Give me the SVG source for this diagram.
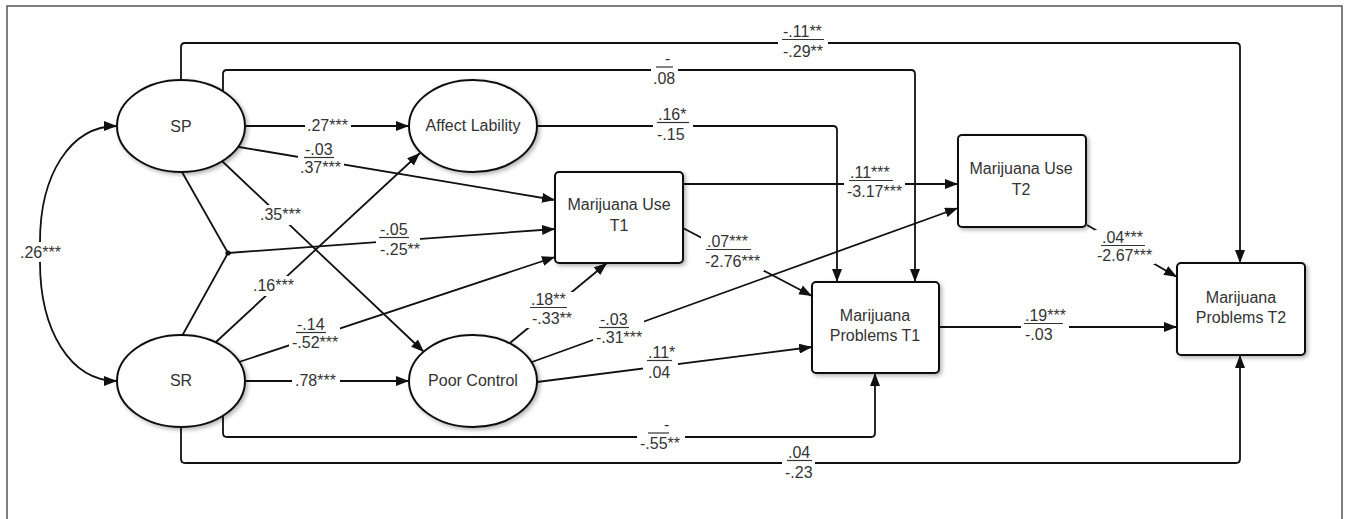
<svg xmlns="http://www.w3.org/2000/svg" width="1349" height="519" viewBox="0 0 1349 519">
<style>
.frame{fill:none;stroke:#555;stroke-width:1.5}
.node{fill:#fff;stroke:#111;stroke-width:2;filter:url(#sh)}
.nt{font-family:"Liberation Sans",Arial,sans-serif;font-size:16px;fill:#333;text-anchor:middle}
.c{fill:none;stroke:#111;stroke-width:1.8}
.ca{fill:none;stroke:#111;stroke-width:1.8;marker-end:url(#ah)}
.lt{font-family:"Liberation Sans",Arial,sans-serif;font-size:16px;fill:#333}
.ul{stroke:#333;stroke-width:1.2}
.bg{fill:#fff}
</style>
<defs>
<filter id="sh" x="-20%" y="-20%" width="150%" height="150%">
<feDropShadow dx="2" dy="2" stdDeviation="2" flood-color="#000" flood-opacity="0.3"/>
</filter>
<marker id="ah" markerUnits="userSpaceOnUse" markerWidth="13" markerHeight="10" refX="13" refY="5" orient="auto">
<path d="M0,0 L13,5 L0,10 z" fill="#111"/>
</marker>
</defs>
<rect x="0" y="0" width="1349" height="519" fill="#fff"/>
<path class="frame" d="M7,519 V6 H1342 V519"/>

<g id="connectors">
<!-- SP -> MP T2 (top) -->
<path class="ca" d="M181,80 V47 Q181,43 185,43 H1236 Q1240,43 1240,47 V263"/>
<!-- SP -> MP T1 (top) -->
<path class="ca" d="M223,91 V74 Q223,70 227,70 H911 Q915,70 915,74 V282"/>
<!-- AL -> MP T1 -->
<path class="ca" d="M537,126 H833 Q837,126 837,130 V282"/>
<!-- SP -> AL -->
<path class="ca" d="M244,126 H409"/>
<!-- SP -> MU T1 -->
<path class="ca" d="M239,147 L555,200"/>
<!-- SP -> PC -->
<path class="ca" d="M222,161 L424,352"/>
<!-- SR -> AL -->
<path class="ca" d="M216,342 L420,153"/>
<!-- SP/SR junction -> MU T1 -->
<path class="c" d="M182,172 L228,253 L182,336"/>
<path class="ca" d="M228,253 L555,229"/>
<circle cx="228" cy="253" r="2.6" fill="#111"/>
<!-- SR -> MU T1 -->
<path class="ca" d="M239,362 L555,257"/>
<!-- SR -> PC -->
<path class="ca" d="M244,381 H409"/>
<!-- SP <-> SR covariance -->
<path class="ca" d="M40,242 C40,175 70,126 117,126"/>
<path class="ca" d="M40,262 C40,330 70,381 117,381"/>
<!-- SR -> MP T1 (bottom) -->
<path class="ca" d="M223,416 V433 Q223,437 227,437 H871 Q875,437 875,433 V373"/>
<!-- SR -> MP T2 (bottom) -->
<path class="ca" d="M181,427 V459 Q181,463 185,463 H1236 Q1240,463 1240,459 V355"/>
<!-- PC -> MU T1 -->
<path class="ca" d="M510,343 L607,263"/>
<!-- PC -> MU T2 -->
<path class="ca" d="M532,362 L958,208"/>
<!-- PC -> MP T1 -->
<path class="ca" d="M537,382 L812,347"/>
<!-- MU T1 -> MP T1 -->
<path class="ca" d="M683,228 L812,296"/>
<!-- MU T1 -> MU T2 -->
<path class="ca" d="M683,184 H958"/>
<!-- MU T2 -> MP T2 -->
<path class="ca" d="M1087,225 L1177,277"/>
<!-- MP T1 -> MP T2 -->
<path class="ca" d="M939,327 H1177"/>

<!-- label backgrounds -->
<rect class="bg" x="778" y="24" width="50" height="37"/>
<rect class="bg" x="651" y="55" width="27" height="33"/>
<rect class="bg" x="653" y="108" width="40" height="36"/>
<rect class="bg" x="305" y="118" width="46" height="16"/>
<rect class="bg" x="298" y="142" width="46" height="35"/>
<rect class="bg" x="257" y="205" width="49" height="20"/>
<rect class="bg" x="250" y="276" width="49" height="20"/>
<rect class="bg" x="376" y="224" width="44" height="35"/>
<rect class="bg" x="289" y="317" width="51" height="35"/>
<rect class="bg" x="292" y="372" width="48" height="18"/>
<rect class="bg" x="18" y="243" width="44" height="18"/>
<rect class="bg" x="637" y="420" width="48" height="33"/>
<rect class="bg" x="782" y="444" width="33" height="38"/>
<rect class="bg" x="527" y="292" width="47" height="36"/>
<rect class="bg" x="593" y="313" width="51" height="34"/>
<rect class="bg" x="643" y="344" width="35" height="38"/>
<rect class="bg" x="701" y="234" width="63" height="37"/>
<rect class="bg" x="844" y="165" width="61" height="36"/>
<rect class="bg" x="1095" y="230" width="60" height="34"/>
<rect class="bg" x="1021" y="307" width="48" height="37"/>

<!-- labels -->
<text class="lt" x="783" y="37">-.11**</text><line class="ul" x1="782" y1="39.5" x2="824" y2="39.5"/><text class="lt" x="783" y="57">-.29**</text>
<text class="lt" x="665" y="64">-</text><line class="ul" x1="656" y1="67" x2="673" y2="67"/><text class="lt" x="653" y="84">.08</text>
<text class="lt" x="658" y="120">.16*</text><line class="ul" x1="657" y1="122.5" x2="689" y2="122.5"/><text class="lt" x="657" y="140">-.15</text>
<text class="lt" x="307" y="131">.27***</text>
<text class="lt" x="305" y="155">-.03</text><line class="ul" x1="304" y1="157.5" x2="334" y2="157.5"/><text class="lt" x="300" y="173">.37***</text>
<text class="lt" x="260" y="220">.35***</text>
<text class="lt" x="253" y="291">.16***</text>
<text class="lt" x="380" y="235">-.05</text><line class="ul" x1="379" y1="237.5" x2="409" y2="237.5"/><text class="lt" x="380" y="255">-.25**</text>
<text class="lt" x="297" y="330">-.14</text><line class="ul" x1="296" y1="332.5" x2="326" y2="332.5"/><text class="lt" x="292" y="348">-.52***</text>
<text class="lt" x="295" y="386">.78***</text>
<text class="lt" x="20" y="258">.26***</text>
<text class="lt" x="664" y="430">-</text><line class="ul" x1="648" y1="433" x2="669" y2="433"/><text class="lt" x="640" y="449">-.55**</text>
<text class="lt" x="788" y="458">.04</text><line class="ul" x1="787" y1="460.5" x2="812" y2="460.5"/><text class="lt" x="785" y="478">-.23</text>
<text class="lt" x="531" y="305">.18**</text><line class="ul" x1="530" y1="307.5" x2="567" y2="307.5"/><text class="lt" x="532" y="324">-.33**</text>
<text class="lt" x="600" y="325">-.03</text><line class="ul" x1="599" y1="327.5" x2="629" y2="327.5"/><text class="lt" x="596" y="343">-.31***</text>
<text class="lt" x="648" y="358">.11*</text><line class="ul" x1="647" y1="360.5" x2="672" y2="360.5"/><text class="lt" x="648" y="378">.04</text>
<text class="lt" x="707" y="247">.07***</text><line class="ul" x1="706" y1="249.5" x2="751" y2="249.5"/><text class="lt" x="705" y="267">-2.76***</text>
<text class="lt" x="850" y="178">.11***</text><line class="ul" x1="849" y1="180.5" x2="893" y2="180.5"/><text class="lt" x="847" y="197">-3.17***</text>
<text class="lt" x="1102" y="243">.04***</text><line class="ul" x1="1101" y1="245.5" x2="1145" y2="245.5"/><text class="lt" x="1097" y="261">-2.67***</text>
<text class="lt" x="1025" y="321">.19***</text><line class="ul" x1="1024" y1="323.5" x2="1063" y2="323.5"/><text class="lt" x="1025" y="340">-.03</text>
</g>

<g id="SP"><ellipse class="node" cx="181" cy="126" rx="64" ry="46"/><text class="nt" x="181" y="132">SP</text></g>
<g id="SR"><ellipse class="node" cx="181" cy="381" rx="64" ry="46"/><text class="nt" x="181" y="386">SR</text></g>
<g id="AffectLability"><ellipse class="node" cx="473" cy="126" rx="64" ry="46"/><text class="nt" x="473" y="131">Affect Lability</text></g>
<g id="PoorControl"><ellipse class="node" cx="473" cy="381" rx="64" ry="46"/><text class="nt" x="473" y="386">Poor Control</text></g>
<g id="MUT1"><rect class="node" x="555" y="172" width="128" height="91" rx="4"/><text class="nt" x="619" y="210">Marijuana Use</text><text class="nt" x="619" y="231">T1</text></g>
<g id="MUT2"><rect class="node" x="958" y="135" width="128" height="92" rx="4"/><text class="nt" x="1021" y="174">Marijuana Use</text><text class="nt" x="1021" y="195">T2</text></g>
<g id="MPT1"><rect class="node" x="812" y="282" width="127" height="91" rx="4"/><text class="nt" x="875" y="321">Marijuana</text><text class="nt" x="875" y="341">Problems T1</text></g>
<g id="MPT2"><rect class="node" x="1177" y="263" width="128" height="92" rx="4"/><text class="nt" x="1241" y="303">Marijuana</text><text class="nt" x="1241" y="323">Problems T2</text></g>
</svg>
